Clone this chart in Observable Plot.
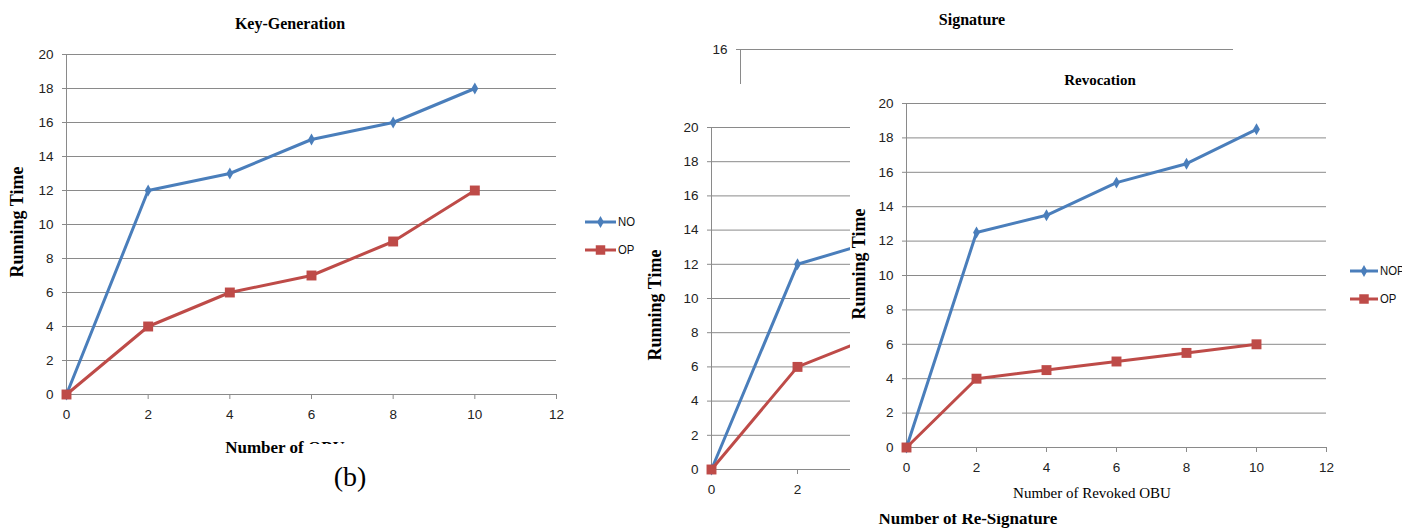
<!DOCTYPE html>
<html><head><meta charset="utf-8">
<script src="https://cdn.jsdelivr.net/npm/d3@7"></script>
<script src="https://cdn.jsdelivr.net/npm/@observablehq/plot@0.6"></script>
<style>
body{margin:0;background:#fff;}
#root{position:relative;width:1402px;height:529px;overflow:hidden;background:#fff;}
.panel{position:absolute;background:#fff;}
.t{position:absolute;white-space:nowrap;line-height:1;font-family:"Liberation Serif","Times New Roman",serif;color:#000;}
.lg{position:absolute;font-family:"Liberation Sans",Arial,sans-serif;font-size:13.5px;color:#111;line-height:1;white-space:nowrap;transform:scaleX(0.84);transform-origin:0 50%;}
</style></head><body><div id="root"></div>
<script>
// ---- data ----
const xCats = [0, 2, 4, 6, 8, 10];
const xTicks = [0, 2, 4, 6, 8, 10, 12];
const yTicks = [0, 2, 4, 6, 8, 10, 12, 14, 16, 18, 20];
const keyGenNO = [0, 12, 13, 15, 16, 18];
const keyGenOP = [0, 4, 6, 7, 9, 12];
const sigX = [0, 2, 4];
const sigXTicks = [0, 2];
const sigNOP = [0, 12, 13.5];
const sigOP = [0, 6, 8];
const revNOP = [0, 12.5, 13.5, 15.4, 16.5, 18.5];
const revOP = [0, 4, 4.5, 5, 5.5, 6];
const fragTicks = [16];

const BLUE = "#4A7EBB", RED = "#BE4B48", GRID = "#8a8a8a", TXT = "#222";
const tickFont = '"Liberation Sans", Arial, sans-serif';
const root = document.getElementById("root");
const rows = (xs, ys) => xs.map((x, i) => ({x, y: ys[i]}));

function chart({width, height, mL, mR, mT, mB, xT, yT, yDomain, series}) {
  const marks = [
    Plot.gridY(yT, {stroke: GRID, strokeOpacity: 1, strokeWidth: 1}),
    Plot.ruleX([0], {stroke: GRID, strokeWidth: 1}),
    Plot.axisY(yT, {tickSize: 4, tickPadding: 9, stroke: GRID, fill: TXT, label: null})
  ];
  if (xT) marks.push(Plot.axisX(xT, {tickSize: 5, tickPadding: 10, stroke: GRID, fill: TXT, label: null}));
  for (const s of series) {
    marks.push(Plot.line(s.data, {x: "x", y: "y", stroke: s.color, strokeWidth: 3, strokeLinejoin: "round"}));
    marks.push(Plot.dot(s.data, {x: "x", y: "y", symbol: s.symbol, r: s.r, fill: s.color}));
  }
  return Plot.plot({
    width, height, marginLeft: mL, marginRight: mR, marginTop: mT, marginBottom: mB,
    style: {fontFamily: tickFont, fontSize: "13.5px", background: "transparent", overflow: "visible"},
    x: {domain: [0, 12], label: null},
    y: {domain: yDomain, label: null},
    marks
  });
}

function place(parent, el, left, top) {
  el.style.position = "absolute"; el.style.left = left + "px"; el.style.top = top + "px";
  parent.appendChild(el); return el;
}
function text(parent, str, cx, cy, size, weight, rotate) {
  const d = document.createElement("div");
  d.className = "t"; d.textContent = str;
  d.style.fontSize = size + "px"; d.style.fontWeight = weight;
  d.style.left = cx + "px"; d.style.top = cy + "px";
  d.style.transform = "translate(-50%,-50%)" + (rotate ? " rotate(-90deg)" : "");
  parent.appendChild(d); return d;
}
function panel(left, top, w, h) {
  const d = document.createElement("div");
  d.className = "panel";
  Object.assign(d.style, {left: left + "px", top: top + "px", width: w + "px", height: h + "px"});
  root.appendChild(d); return d;
}
function legendItem(parent, x0, x1, cy, color, symbol, size, label) {
  const ns = "http://www.w3.org/2000/svg";
  const svg = document.createElementNS(ns, "svg");
  const w = x1 - x0;
  svg.setAttribute("width", w); svg.setAttribute("height", 14);
  const ln = document.createElementNS(ns, "line");
  ln.setAttribute("x1", 0); ln.setAttribute("x2", w); ln.setAttribute("y1", 7); ln.setAttribute("y2", 7);
  ln.setAttribute("stroke", color); ln.setAttribute("stroke-width", 3);
  svg.appendChild(ln);
  const p = document.createElementNS(ns, "path");
  p.setAttribute("d", d3.symbol(symbol, size)());
  p.setAttribute("transform", `translate(${w / 2},7)`);
  p.setAttribute("fill", color);
  svg.appendChild(p);
  svg.style.position = "absolute"; svg.style.left = x0 + "px"; svg.style.top = (cy - 7) + "px";
  parent.appendChild(svg);
  const t = document.createElement("div");
  t.className = "lg"; t.textContent = label;
  t.style.left = (x1 + 2) + "px"; t.style.top = (cy - 7) + "px";
  parent.appendChild(t);
}

// ---- Chart 1: Key-Generation ----
place(root, chart({
  width: 640, height: 529, mL: 66, mR: 84, mT: 54, mB: 135, xT: xTicks, yT: yTicks, yDomain: [0, 20],
  series: [
    {data: rows(xCats, keyGenNO), color: BLUE, symbol: "diamond", r: 3.6},
    {data: rows(xCats, keyGenOP), color: RED, symbol: "square", r: 5.6}
  ]
}), 0, 0);
text(root, "Key-Generation", 290, 24, 16, "bold");
text(root, "Running Time", 17, 222, 18, "bold", true);
text(root, "Number of OBU", 285, 447, 17, "bold");
legendItem(root, 585, 616, 222, BLUE, d3.symbolDiamond, 40, "NO");
legendItem(root, 585, 616, 250, RED, d3.symbolSquare, 90, "OP");

// ---- Signature: fragment behind ----
place(root, chart({
  width: 560, height: 200, mL: 50, mR: 17, mT: 49, mB: 20, xT: null, yT: fragTicks, yDomain: [0, 16],
  series: []
}), 690, 0);
text(root, "Signature", 972, 20, 16, "bold");

// ---- Signature panel ----
const pB = panel(642, 84, 760, 445);
place(pB, chart({
  width: 600, height: 445, mL: 69, mR: 15, mT: 43, mB: 60, xT: sigXTicks, yT: yTicks, yDomain: [0, 20],
  series: [
    {data: rows(sigX, sigNOP), color: BLUE, symbol: "diamond", r: 3.6},
    {data: rows(sigX, sigOP), color: RED, symbol: "square", r: 5.6}
  ]
}), 0, 0);
text(pB, "Running Time", 655 - 642, 305 - 84, 18, "bold", true);
text(pB, "Number of Re-Signature", 968 - 642, 518 - 84, 17, "bold");

// ---- Revocation panel ----
const pC = panel(850, 60, 552, 454);
place(pC, chart({
  width: 552, height: 454, mL: 56, mR: 76, mT: 43, mB: 67, xT: xTicks, yT: yTicks, yDomain: [0, 20],
  series: [
    {data: rows(xCats, revNOP), color: BLUE, symbol: "diamond", r: 3.6},
    {data: rows(xCats, revOP), color: RED, symbol: "square", r: 5.6}
  ]
}), 0, 0);
text(pC, "Revocation", 1100 - 850, 80 - 60, 15, "bold");
text(pC, "Running Time", 859 - 850, 264 - 60, 18, "bold", true);
text(pC, "Number of Revoked OBU", 1092 - 850, 493 - 60, 15, "normal");
legendItem(pC, 1350 - 850, 1378 - 850, 271 - 60, BLUE, d3.symbolDiamond, 40, "NOP");
legendItem(pC, 1350 - 850, 1378 - 850, 299 - 60, RED, d3.symbolSquare, 90, "OP");

// ---- (b) caption box ----
const pb = panel(307, 444, 90, 60);
text(pb, "(b)", 350 - 307, 477 - 444, 28, "normal");
</script></body></html>
